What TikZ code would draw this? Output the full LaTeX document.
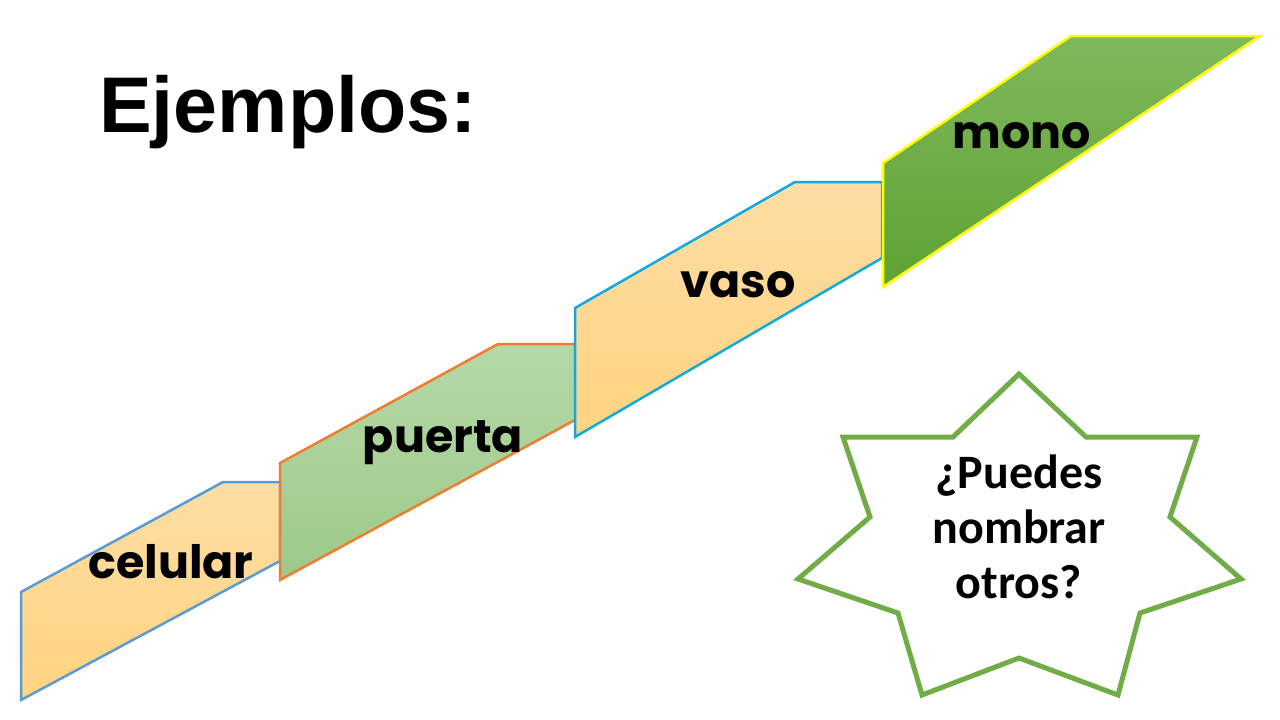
\documentclass[tikz,border=0pt]{standalone}
\usepackage{fontspec}
\setmainfont{Liberation Sans}
\newfontfamily\titlefont{Liberation Sans}
\newfontfamily\starfont{Carlito}
\newfontfamily\stepfont{Poppins}
\definecolor{orTop}{HTML}{FEDEA4}
\definecolor{orBot}{HTML}{FFD380}
\definecolor{grTop}{HTML}{B6D8A8}
\definecolor{grBot}{HTML}{9EC989}
\definecolor{dgTop}{HTML}{80B85C}
\definecolor{dgBot}{HTML}{5EA232}
\definecolor{bBlue}{HTML}{5B9BD5}
\definecolor{bOrange}{HTML}{ED7D31}
\definecolor{bCyan}{HTML}{12A9E1}
\definecolor{bYellow}{HTML}{FFFF00}
\definecolor{starGreen}{HTML}{70AD47}
\tikzset{
  stepshape/.style={line width=2.5pt, line join=miter},
  steplabel/.style={anchor=base, inner sep=0pt, font=\stepfont\bfseries\fontsize{46}{48}\selectfont},
  starline/.style={anchor=base, inner sep=0pt, font=\starfont\bfseries\fontsize{48}{50}\selectfont},
}
\begin{document}
\begin{tikzpicture}[x=1pt,y=-1pt]
\useasboundingbox (0,0) rectangle (1280,720);
\fill[white] (0,0) rectangle (1280,720);
% steps
\draw[stepshape, draw=bBlue, top color=orTop, bottom color=orBot]
  (21,592) -- (223,482) -- (280,482) -- (280,561) -- (21,700) -- cycle;
\draw[stepshape, draw=bOrange, top color=grTop, bottom color=grBot]
  (280,463) -- (498,344) -- (575,344) -- (575,420) -- (280,580) -- cycle;
\draw[stepshape, draw=bCyan, top color=orTop, bottom color=orBot]
  (575,308) -- (795,182) -- (882,182) -- (882,258) -- (575,437) -- cycle;
\draw[stepshape, draw=bYellow, top color=dgTop, bottom color=dgBot]
  (883,163) -- (1071,36) -- (1260,36) -- (883,287) -- cycle;
% labels
\node[steplabel] (celular) at (171,578) {celular};
\node[steplabel] (puerta) at (443,452) {puerta};
\node[steplabel] (vaso) at (738,297) {vaso};
\node[steplabel] (mono) at (1022,148) {mono};
% title
\node[anchor=base west, inner sep=0pt, font=\titlefont\bfseries\fontsize{79}{80}\selectfont] (title) at (99,132) {Ejemplos:};
% star
\draw[draw=starGreen, line width=5pt, fill=white, line join=miter]
  (1019,374) -- (1086,437) -- (1197,437) -- (1170,517) -- (1241,579) -- (1140,613)
  -- (1118,695) -- (1019,658) -- (922,695) -- (898,613) -- (798,579) -- (870,517)
  -- (843,437) -- (953,437) -- cycle;
\node[starline] (q1) at (1019,488) {¿Puedes};
\node[starline] (q2) at (1019,543) {nombrar};
\node[starline] (q3) at (1019,598) {otros?};
\end{tikzpicture}
\end{document}
